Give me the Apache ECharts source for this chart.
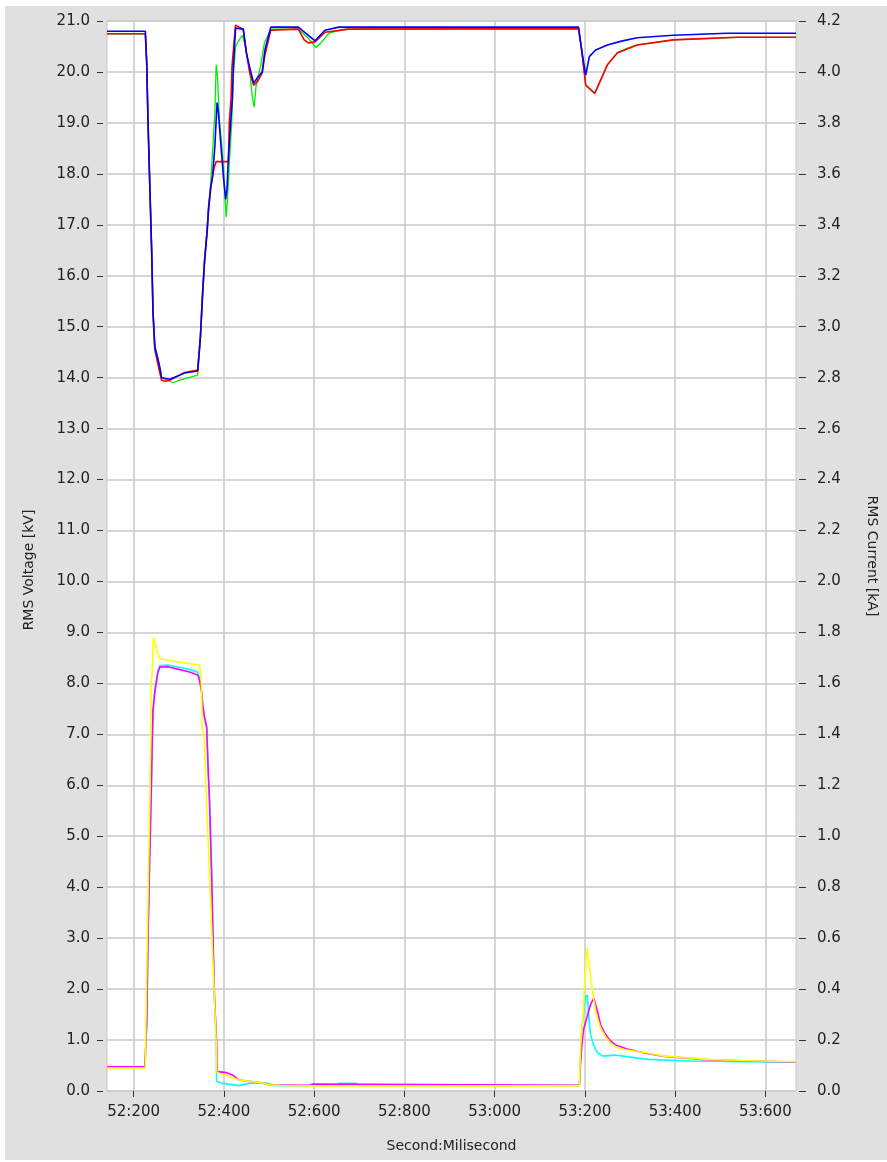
<!DOCTYPE html>
<html>
<head>
<meta charset="utf-8">
<script src="https://cdn.jsdelivr.net/npm/echarts@6/dist/echarts.min.js"></script>
<style>
html,body{margin:0;padding:0;background:#ffffff;}
#panel{position:absolute;left:5px;top:6px;width:882px;height:1154px;background:#e0e0e0;}
#chart{width:882px;height:1154px;}
</style>
</head>
<body>
<div id="panel"><div id="chart"></div></div>
<script>
// Time in milliseconds (52:200 -> 52200), voltage in kV, current in kA
const xTicks = [52200, 52400, 52600, 52800, 53000, 53200, 53400, 53600];

const voltageBlue = [[52141,20.80],[52226,20.80],[52229,20.18],[52232,19.0],[52236,17.74],[52240,16.5],[52243,15.29],[52247,14.6],[52253,14.4],[52258,14.2],[52262,14.0],[52280,13.97],[52302,14.05],[52313,14.09],[52342,14.13],[52348,14.8],[52353,15.66],[52357,16.25],[52363,16.87],[52366,17.29],[52371,17.74],[52375,17.95],[52380,18.54],[52385,19.4],[52388,19.2],[52394,18.5],[52399,17.95],[52404,17.5],[52407,17.7],[52410,18.3],[52415,19.0],[52419,19.5],[52421,20.1],[52426,20.86],[52443,20.84],[52450,20.37],[52457,20.1],[52466,19.78],[52474,19.88],[52485,20.0],[52491,20.43],[52504,20.88],[52565,20.88],[52602,20.61],[52624,20.82],[52655,20.88],[53186,20.88],[53193,20.43],[53202,19.94],[53210,20.3],[53224,20.43],[53250,20.53],[53279,20.6],[53316,20.67],[53396,20.72],[53515,20.76],[53668,20.76]];

const voltageRed = [[52141,20.75],[52226,20.75],[52229,20.16],[52232,18.98],[52236,17.7],[52240,16.45],[52243,15.25],[52247,14.55],[52253,14.3],[52258,14.1],[52262,13.95],[52270,13.93],[52280,13.95],[52302,14.05],[52313,14.1],[52342,14.15],[52348,14.8],[52353,15.7],[52357,16.3],[52363,16.9],[52366,17.35],[52371,17.74],[52375,17.95],[52379,18.14],[52383,18.24],[52410,18.24],[52412,19.0],[52416,19.5],[52418,20.1],[52423,20.63],[52426,20.92],[52434,20.88],[52443,20.84],[52450,20.37],[52457,20.0],[52466,19.74],[52474,19.8],[52485,19.98],[52491,20.33],[52504,20.82],[52565,20.84],[52578,20.63],[52587,20.57],[52602,20.59],[52624,20.78],[52677,20.84],[53186,20.85],[53193,20.43],[53202,19.74],[53222,19.58],[53250,20.14],[53272,20.37],[53316,20.53],[53396,20.63],[53449,20.65],[53537,20.68],[53668,20.68]];

const voltageGreen = [[52141,20.75],[52226,20.75],[52229,20.2],[52232,19.0],[52236,17.75],[52240,16.55],[52243,15.3],[52247,14.65],[52253,14.4],[52258,14.2],[52262,14.0],[52287,13.9],[52302,13.95],[52342,14.05],[52348,14.75],[52353,15.6],[52357,16.2],[52363,16.95],[52366,17.29],[52371,17.85],[52376,18.6],[52380,19.2],[52383,20.14],[52386,19.9],[52390,19.06],[52395,18.6],[52399,18.15],[52405,17.15],[52408,17.49],[52412,18.2],[52417,18.93],[52421,19.9],[52426,20.5],[52434,20.63],[52441,20.72],[52448,20.5],[52457,20.04],[52463,19.51],[52467,19.31],[52472,19.78],[52481,20.1],[52490,20.57],[52501,20.78],[52507,20.84],[52565,20.84],[52587,20.66],[52604,20.48],[52615,20.57],[52633,20.76],[52666,20.84],[53186,20.85],[53193,20.43],[53202,19.74],[53222,19.58],[53250,20.14],[53272,20.38],[53294,20.47],[53316,20.53],[53396,20.63],[53420,20.64],[53449,20.65],[53537,20.68],[53668,20.68]];

const currentMagenta = [[52141,0.095],[52225,0.095],[52229,0.267],[52232,0.62],[52235,0.867],[52239,1.17],[52241,1.35],[52243,1.495],[52247,1.566],[52251,1.613],[52254,1.645],[52258,1.664],[52262,1.668],[52276,1.665],[52298,1.656],[52324,1.645],[52342,1.633],[52346,1.613],[52351,1.562],[52353,1.515],[52357,1.468],[52362,1.425],[52365,1.27],[52368,1.15],[52373,0.85],[52376,0.6],[52379,0.38],[52384,0.19],[52385,0.076],[52406,0.072],[52419,0.063],[52434,0.043],[52479,0.033],[52501,0.024],[52590,0.022],[52596,0.027],[52610,0.027],[52614,0.022],[53188,0.022],[53190,0.094],[53193,0.173],[53197,0.24],[53201,0.267],[53205,0.29],[53209,0.318],[53214,0.345],[53220,0.365],[53224,0.338],[53229,0.306],[53235,0.259],[53244,0.228],[53255,0.2],[53268,0.181],[53294,0.165],[53338,0.147],[53376,0.136],[53471,0.123],[53560,0.118],[53668,0.114]];

const currentCyan = [[52141,0.093],[52225,0.093],[52229,0.26],[52232,0.6],[52235,0.86],[52239,1.16],[52241,1.34],[52243,1.49],[52247,1.57],[52251,1.62],[52254,1.65],[52258,1.67],[52262,1.675],[52276,1.672],[52298,1.664],[52324,1.655],[52342,1.645],[52346,1.62],[52351,1.565],[52353,1.52],[52357,1.47],[52362,1.43],[52365,1.27],[52368,1.14],[52373,0.84],[52376,0.6],[52379,0.37],[52383,0.19],[52384,0.037],[52397,0.03],[52434,0.021],[52457,0.031],[52494,0.031],[52516,0.021],[52650,0.021],[52655,0.03],[52693,0.03],[52697,0.021],[53188,0.021],[53192,0.21],[53193,0.24],[53197,0.306],[53201,0.369],[53205,0.377],[53209,0.29],[53212,0.228],[53218,0.188],[53224,0.161],[53229,0.149],[53240,0.137],[53265,0.141],[53294,0.135],[53338,0.124],[53434,0.118],[53560,0.115],[53668,0.113]];

const currentYellow = [[52141,0.09],[52226,0.09],[52227,0.24],[52231,0.67],[52234,0.96],[52237,1.27],[52239,1.6],[52241,1.64],[52244,1.78],[52247,1.76],[52253,1.72],[52258,1.695],[52265,1.695],[52295,1.685],[52313,1.68],[52346,1.672],[52350,1.613],[52352,1.417],[52356,1.405],[52360,1.21],[52383,0.19],[52384,0.075],[52390,0.069],[52405,0.063],[52419,0.052],[52434,0.043],[52479,0.033],[52501,0.024],[52523,0.022],[52596,0.02],[53188,0.02],[53191,0.19],[53196,0.29],[53199,0.396],[53203,0.514],[53205,0.561],[53208,0.514],[53212,0.463],[53216,0.404],[53220,0.357],[53224,0.31],[53229,0.279],[53235,0.247],[53246,0.212],[53257,0.188],[53273,0.169],[53294,0.161],[53338,0.149],[53376,0.137],[53471,0.124],[53560,0.119],[53668,0.115]];

const FONT = 'DejaVu Sans';
const TXT = '#222222';
const GRID = '#c8c8c8';

function fmtTime(v) {
  const s = Math.floor(v / 1000);
  const ms = Math.round(v - s * 1000);
  return s + ':' + String(ms).padStart(3, '0');
}

function lineSeries(name, data, color, yIndex, width) {
  return {
    name: name, type: 'line', data: data, yAxisIndex: yIndex,
    showSymbol: false, symbol: 'none', animation: false,
    lineStyle: { color: color, width: width || 1.6 },
    itemStyle: { color: color }
  };
}

const chart = echarts.init(document.getElementById('chart'), null, { renderer: 'canvas' });
chart.setOption({
  backgroundColor: '#e0e0e0',
  animation: false,
  grid: {
    left: 102, top: 15, right: 88, bottom: 69,
    show: true, backgroundColor: '#ffffff', borderColor: GRID, borderWidth: 1
  },
  xAxis: {
    type: 'value', min: 52141, max: 53668,
    offset: 4,
    name: 'Second:Milisecond', nameLocation: 'middle', nameGap: 44,
    nameTextStyle: { fontFamily: FONT, fontSize: 14, color: TXT },
    axisLine: { show: false },
    axisTick: { show: true, length: 6, customValues: xTicks, lineStyle: { color: '#333', width: 1 } },
    axisLabel: { customValues: xTicks, formatter: fmtTime, margin: 10, fontFamily: FONT, fontSize: 15, color: TXT },
    splitLine: { show: true, lineStyle: { color: GRID, width: 1.5 } }
  },
  yAxis: [{
    type: 'value', min: 0, max: 21, interval: 1, position: 'left', offset: 4,
    name: 'RMS Voltage [kV]', nameLocation: 'middle', nameGap: 67,
    nameTextStyle: { fontFamily: FONT, fontSize: 14, color: TXT, padding: [0, 28, 0, 0] },
    axisLine: { show: false },
    axisTick: { show: true, length: 6, lineStyle: { color: '#333', width: 1 } },
    axisLabel: { formatter: v => v.toFixed(1), margin: 13, fontFamily: FONT, fontSize: 15, color: TXT },
    splitLine: { show: true, lineStyle: { color: GRID, width: 1.5 } }
  }, {
    type: 'value', min: 0, max: 4.2, interval: 0.2, position: 'right', offset: 3,
    name: 'RMS Current [kA]', nameLocation: 'middle', nameGap: 66, nameRotate: -90,
    nameTextStyle: { fontFamily: FONT, fontSize: 14, color: TXT },
    axisLine: { show: false },
    axisTick: { show: true, length: 7, lineStyle: { color: '#333', width: 1 } },
    axisLabel: { formatter: v => v.toFixed(1), margin: 18, fontFamily: FONT, fontSize: 15, color: TXT },
    splitLine: { show: false }
  }],
  series: [
    lineSeries('Voltage L2', voltageGreen, '#00ee00', 0, 1.3),
    lineSeries('Voltage L1', voltageRed, '#ff0000', 0),
    lineSeries('Voltage L3', voltageBlue, '#0000ff', 0),
    lineSeries('Current L3', currentCyan, '#00ffff', 1),
    lineSeries('Current L1', currentMagenta, '#ff00ff', 1),
    lineSeries('Current L2', currentYellow, '#ffff00', 1)
  ]
});
</script>
</body>
</html>
